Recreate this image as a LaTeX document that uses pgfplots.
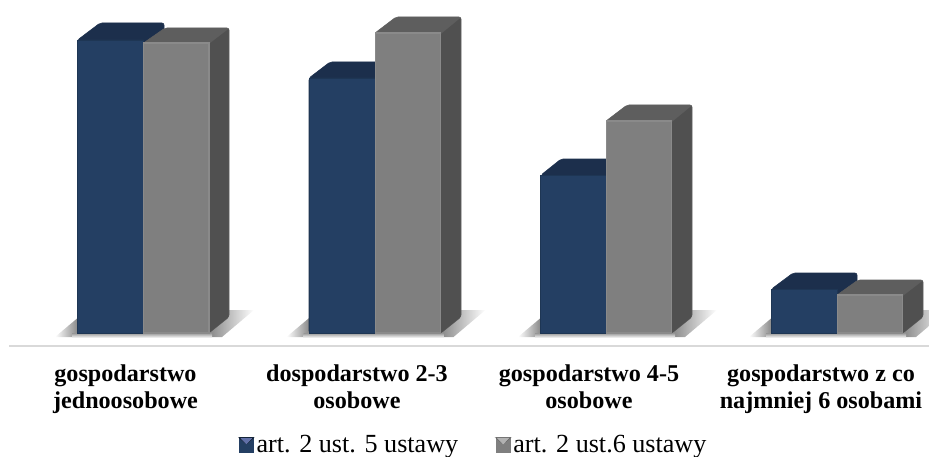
\documentclass[border=0pt]{standalone}
\usepackage{fontspec}
\setmainfont{Liberation Serif}
\usepackage{pgfplots}
\pgfplotsset{compat=1.18}
\definecolor{bluefront}{HTML}{243F63}
\definecolor{blueedge}{HTML}{1E3654}
\definecolor{bluetop}{HTML}{1C2F4C}
\definecolor{grayfront}{HTML}{7F7F7F}
\definecolor{grayedge}{HTML}{8A8A8A}
\definecolor{graytop}{HTML}{5E5E5E}
\definecolor{grayside}{HTML}{505050}
\definecolor{shadowc}{HTML}{7C7C7C}
\begin{document}
\begin{tikzpicture}
\useasboundingbox (-6.75pt,-83.25pt) rectangle (690pt,259.5pt);
\begin{axis}[
  scale only axis,
  width=690pt, height=259.5pt,
  xmin=9, xmax=929, ymin=-13, ymax=333,
  axis y line=none,
  axis x line=bottom,
  axis line style={draw=black!15, line width=1.1pt, -},
  x axis line style={-},
  xtick={125.5,357,589,821},
  xticklabels={gospodarstwo\\jednoosobowe, dospodarstwo 2-3\\osobowe, gospodarstwo 4-5\\osobowe, gospodarstwo z co\\najmniej 6 osobami},
  x tick label style={font=\fontsize{18.1}{20.6}\selectfont\bfseries, align=center, yshift=-10.5pt},
  major tick length=0pt,
  clip=false,
  legend style={draw=none, fill=none, at={(axis cs:474,-112)}, anchor=center, legend columns=2,
    font=\fontsize{19.6}{21}\selectfont, /tikz/every even column/.append style={column sep=26pt}, inner sep=0pt},
]
% floor shadows
\foreach \dx in {0,231.5,463,694}{
 \edef\tmp{
 \noexpand\shade[left color=white,right color=shadowc] (axis cs:{55+\dx},-4) -- (axis cs:{80+\dx},-4) -- (axis cs:{80+\dx},17) -- cycle;
 \noexpand\shade[left color=shadowc,right color=white] (axis cs:{205+\dx},-4) -- (axis cs:{222+\dx},-4) -- (axis cs:{254+\dx},23) -- (axis cs:{226+\dx},23) -- cycle;
 \noexpand\shade[top color=shadowc!80,bottom color=white] (axis cs:{72+\dx},0) rectangle (axis cs:{212+\dx},-5);}
 \tmp
}
\addplot[forget plot,fill=bluetop,draw=bluetop,rounded corners=1.5pt] coordinates {(77.5,293)(100,310)(164,310)(164,16)(143.5,0)(77.5,0)} -- cycle;
\addplot[forget plot,fill=bluetop,draw=bluetop,rounded corners=1.5pt] coordinates {(309,255)(330,271)(395,271)(395,16)(375,0)(309,0)} -- cycle;
\addplot[forget plot,fill=bluetop,draw=bluetop,rounded corners=1.5pt] coordinates {(541,158)(561,174)(626,174)(626,16)(606,0)(541,0)} -- cycle;
\addplot[forget plot,fill=bluetop,draw=bluetop,rounded corners=1.5pt] coordinates {(771.5,44)(793,60)(857,60)(857,16)(837,0)(771.5,0)} -- cycle;
\addplot[ybar,bar width=66,bar shift=0pt,fill=bluefront,draw=blueedge,line width=0.7pt,
  legend image code/.code={\fill[bluefront] (0pt,-5.4pt) rectangle (10.5pt,5.4pt); \fill[black!60!bluefront] (0pt,5.4pt)--(10.5pt,5.4pt)--(5.25pt,1pt)--cycle; \fill[blue!20!bluefront!70!white] (1.5pt,4.9pt)--(9pt,4.9pt)--(5.25pt,1pt)--cycle;}]
  coordinates {(110.5,293)(342,255)(573.5,158)(804.5,44)};
\addlegendentry{art. 2 ust. 5 ustawy}
\addplot[forget plot,fill=graytop,draw=graytop,rounded corners=1.5pt] coordinates {(143.5,290)(165,305)(229,305)(229,16)(209,0)(209,290)} -- cycle;
\addplot[forget plot,fill=graytop,draw=graytop,rounded corners=1.5pt] coordinates {(375,300)(396,316)(461,316)(461,16)(441,0)(441,300)} -- cycle;
\addplot[forget plot,fill=graytop,draw=graytop,rounded corners=1.5pt] coordinates {(606,212)(627,228)(692,228)(692,16)(672,0)(672,212)} -- cycle;
\addplot[forget plot,fill=graytop,draw=graytop,rounded corners=1.5pt] coordinates {(837,38)(858,53)(923,53)(923,16)(903,0)(903,38)} -- cycle;
\addplot[forget plot,fill=grayside,draw=none] coordinates {(209,289)(228.5,304)(228.5,16)(209,0)} -- cycle;
\addplot[forget plot,fill=grayside,draw=none] coordinates {(441,299)(460.5,315)(460.5,16)(441,0)} -- cycle;
\addplot[forget plot,fill=grayside,draw=none] coordinates {(672,211)(691.5,227)(691.5,16)(672,0)} -- cycle;
\addplot[forget plot,fill=grayside,draw=none] coordinates {(903,37)(922.5,52)(922.5,16)(903,0)} -- cycle;
\addplot[ybar,bar width=65.5,bar shift=0pt,fill=grayfront,draw=grayedge,line width=0.8pt,
  legend image code/.code={\fill[grayfront] (0pt,-5.4pt) rectangle (10.5pt,5.4pt); \fill[black!60] (0pt,5.4pt)--(10.5pt,5.4pt)--(5.25pt,1pt)--cycle; \fill[black!30] (1.5pt,4.9pt)--(9pt,4.9pt)--(5.25pt,1pt)--cycle;}]
  coordinates {(176.25,290)(408,300)(639,212)(870,38)};
\addlegendentry{art. 2 ust.6 ustawy}
\end{axis}
\end{tikzpicture}
\end{document}
